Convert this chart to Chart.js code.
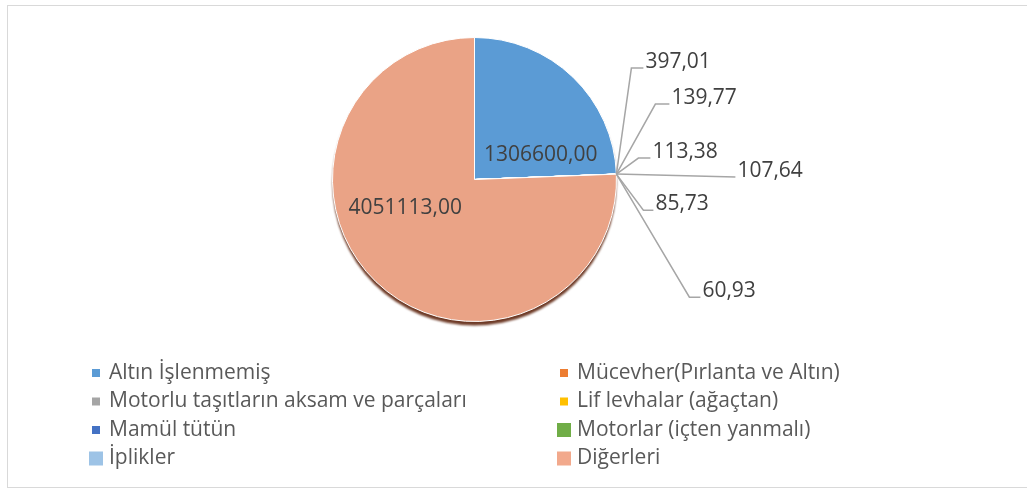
<!DOCTYPE html>
<html>
<head>
<meta charset="utf-8">
<script src="https://cdn.jsdelivr.net/npm/chart.js@4.4.0/dist/chart.umd.min.js"></script>
<style>
  html, body { margin: 0; padding: 0; background: #fff; }
  #wrap { position: relative; width: 1027px; height: 489px; overflow: hidden; }
  #frame { position: absolute; left: 7px; top: 5px; width: 1100px; height: 481px; border: 1px solid #d9d9d9; }
  canvas { position: absolute; left: 0; top: 0; }
</style>
</head>
<body>
<div id="wrap">
  <div id="frame"></div>
  <canvas id="pieCanvas" width="1027" height="489"></canvas>
</div>
<script>
const categories = [
    'Altın İşlenmemiş',
    'Mücevher(Pırlanta ve Altın)',
    'Motorlu taşıtların aksam ve parçaları',
    'Lif levhalar (ağaçtan)',
    'Mamül tütün',
    'Motorlar (içten yanmalı)',
    'İplikler',
    'Diğerleri'
];
const values = [1306600.00, 397.01, 139.77, 113.38, 107.64, 85.73, 60.93, 4051113.00];
const colors = ['#5B9BD5', '#ED7D31', '#A5A5A5', '#FFC000', '#4472C4', '#70AD47', '#9DC3E6', '#EAA386'];
const legendColors = ['#5B9BD5', '#ED7D31', '#A5A5A5', '#FFC000', '#4472C4', '#70AD47', '#9DC3E6', '#F2A98C'];

// label placement (offsets relative to the slice, not data)
const insideOffsets = { 0: [17, 27], 7: [-20, -23] };
// [elbow dx, elbow dy, horizontal tail] from the slice's outer edge point
const leaderLayout = [null, [15, -106, 12], [39, -70, 14], [22, -16, 12], [119, 3, 0], [27, 36, 10], [73, 123, 11], null];
const legendSwatch = [8, 8, 8, 8, 8, 14, 14, 14];

const fmt = v => v.toFixed(2).replace('.', ',');

// dark rim under the pie, like the 3D-ish shadow in the original
const shadowPlugin = {
    id: 'pieShadow',
    beforeDatasetsDraw(chart) {
        const arc = chart.getDatasetMeta(0).data[0];
        if (!arc) return;
        const p = arc.getProps(['x', 'y', 'outerRadius'], true);
        const ctx = chart.ctx;
        ctx.save();
        ctx.filter = 'blur(1px)';
        ctx.fillStyle = '#6e3a26';
        ctx.beginPath();
        ctx.arc(p.x, p.y + 4, p.outerRadius, 0, Math.PI * 2);
        ctx.fill();
        ctx.restore();
    }
};

const labelPlugin = {
    id: 'sliceLabels',
    afterDatasetsDraw(chart) {
        const ctx = chart.ctx;
        const arcs = chart.getDatasetMeta(0).data;
        ctx.save();
        ctx.font = '21px "Open Sans"';
        ctx.fillStyle = '#404040';
        ctx.textBaseline = 'middle';
        arcs.forEach((arc, i) => {
            const p = arc.getProps(['x', 'y', 'startAngle', 'endAngle', 'outerRadius'], true);
            const mid = (p.startAngle + p.endAngle) / 2;
            const text = fmt(values[i]);
            if (insideOffsets[i]) {
                const r = p.outerRadius / 2;
                const off = insideOffsets[i];
                ctx.textAlign = 'center';
                ctx.fillText(text, p.x + Math.cos(mid) * r + off[0], p.y + Math.sin(mid) * r + off[1]);
                return;
            }
            const lay = leaderLayout[i];
            const ax = p.x + Math.cos(mid) * p.outerRadius;
            const ay = p.y + Math.sin(mid) * p.outerRadius;
            const ex = ax + lay[0], ey = ay + lay[1];
            ctx.strokeStyle = '#a6a6a6';
            ctx.lineWidth = 1.5;
            ctx.beginPath();
            ctx.moveTo(ax, ay);
            ctx.lineTo(ex, ey);
            ctx.lineTo(ex + lay[2], ey);
            ctx.stroke();
            ctx.textAlign = 'left';
            ctx.fillText(text, ex + lay[2] + 2, ey - 6);
        });
        ctx.restore();
    }
};

const legendPlugin = {
    id: 'twoColumnLegend',
    afterDraw(chart) {
        const ctx = chart.ctx;
        const colX = [96, 564];
        const rowY = 373, rowH = 28.5;
        ctx.save();
        ctx.font = '21px "Open Sans"';
        ctx.textBaseline = 'middle';
        ctx.textAlign = 'left';
        categories.forEach((name, i) => {
            const cx = colX[i % 2];
            const cy = rowY + Math.floor(i / 2) * rowH;
            const s = legendSwatch[i];
            ctx.fillStyle = legendColors[i];
            ctx.fillRect(cx - s / 2, cy - s / 2, s, s);
            ctx.fillStyle = '#595959';
            ctx.fillText(name, cx + 13, cy);
        });
        ctx.restore();
    }
};

new Chart(document.getElementById('pieCanvas').getContext('2d'), {
    type: 'pie',
    data: {
        labels: categories,
        datasets: [{
            data: values,
            backgroundColor: colors,
            borderColor: '#ffffff',
            borderWidth: 1
        }]
    },
    options: {
        responsive: false,
        animation: false,
        layout: { padding: { top: 37, bottom: 167, left: 100, right: 178 } },
        plugins: {
            legend: { display: false },
            tooltip: { enabled: false }
        }
    },
    plugins: [shadowPlugin, labelPlugin, legendPlugin]
});
</script>
</body>
</html>
